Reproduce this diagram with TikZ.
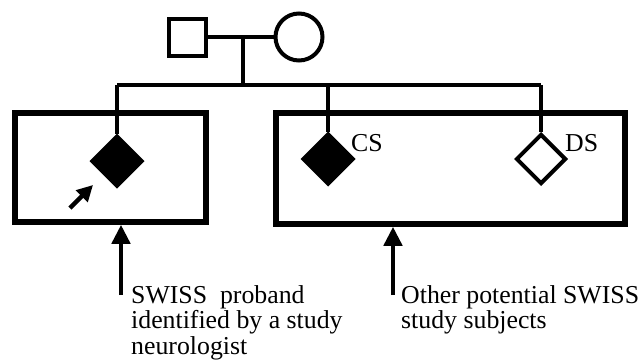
\documentclass[tikz,border=0pt]{standalone}
\usepackage{fontspec}
\setmainfont{Liberation Serif}
\usepackage{tikz}
\usetikzlibrary{arrows.meta,shapes.geometric,positioning}

\tikzset{
  pedline/.style={line width=4.5pt},
  male/.style={draw, rectangle, line width=4pt, minimum size=37pt, inner sep=0pt},
  female/.style={draw, circle, line width=4pt, minimum size=47pt, inner sep=0pt},
  affected/.style={draw, diamond, fill=black, line width=3pt, minimum size=52pt, inner sep=0pt},
  unaffected/.style={draw, diamond, fill=white, line width=4pt, minimum size=50pt, inner sep=0pt},
  groupbox/.style={draw, rectangle, line width=5.5pt, inner sep=0pt},
  pointer/.style={line width=4.5pt, -{Triangle[width=18pt,length=19pt]}},
  caption/.style={font=\fontsize{25.8}{25.5}\selectfont, align=left, inner sep=0pt},
  tag/.style={font=\fontsize{25.8}{27}\selectfont, inner sep=0pt}
}

\begin{document}
\begin{tikzpicture}[x=1pt, y=-1pt]
  \useasboundingbox (0,0) rectangle (644,362);

  % Parents
  \node[male] (father) at (187.5,37) {};
  \node[female] (mother) at (299,37) {};
  \draw[pedline] (father.east) -- (mother.west);
  \coordinate (mate) at (243,37);
  \coordinate (sib) at (243,85);
  \draw[pedline] (mate) -- (sib);

  % Groups
  \node[groupbox, minimum width=191pt, minimum height=109pt] (pbox) at (110.5,167.5) {};
  \node[groupbox, minimum width=349pt, minimum height=111pt] (obox) at (450.5,168.5) {};

  % Children
  \node[affected] (proband) at (117,161) {};
  \node[affected] (cs) at (328,159) {};
  \node[unaffected] (ds) at (541,159) {};
  \node[tag, anchor=base west] (cslab) at (351,151) {CS};
  \node[tag, anchor=base west] (dslab) at (565,151) {DS};

  % Sibship line
  \draw[pedline] (proband.north |- sib) -- (ds.north |- sib);
  \draw[pedline] (proband.north |- sib) -- (proband.north);
  \draw[pedline] (cs.north |- sib) -- (cs.north);
  \draw[pedline] (ds.north |- sib) -- (ds.north);

  % Proband marker
  \coordinate (ptail) at (70,208);
  \coordinate (phead) at (93,185);
  \draw[line width=4.5pt, -{Triangle[width=16pt,length=16pt]}] (ptail) -- (phead);

  % Captions
  \coordinate (lfoot) at (121,295);
  \coordinate (rfoot) at (393,295);
  \draw[pointer] (lfoot) -- (lfoot |- pbox.south);
  \draw[pointer] (rfoot) -- (rfoot |- obox.south);
  \node[caption, anchor=north west] (ltext) at (131,285) {SWISS\ \ proband\\identified by a study\\neurologist};
  \node[caption, anchor=north west] (rtext) at (401,285) {Other potential SWISS\\study subjects};
\end{tikzpicture}
\end{document}
